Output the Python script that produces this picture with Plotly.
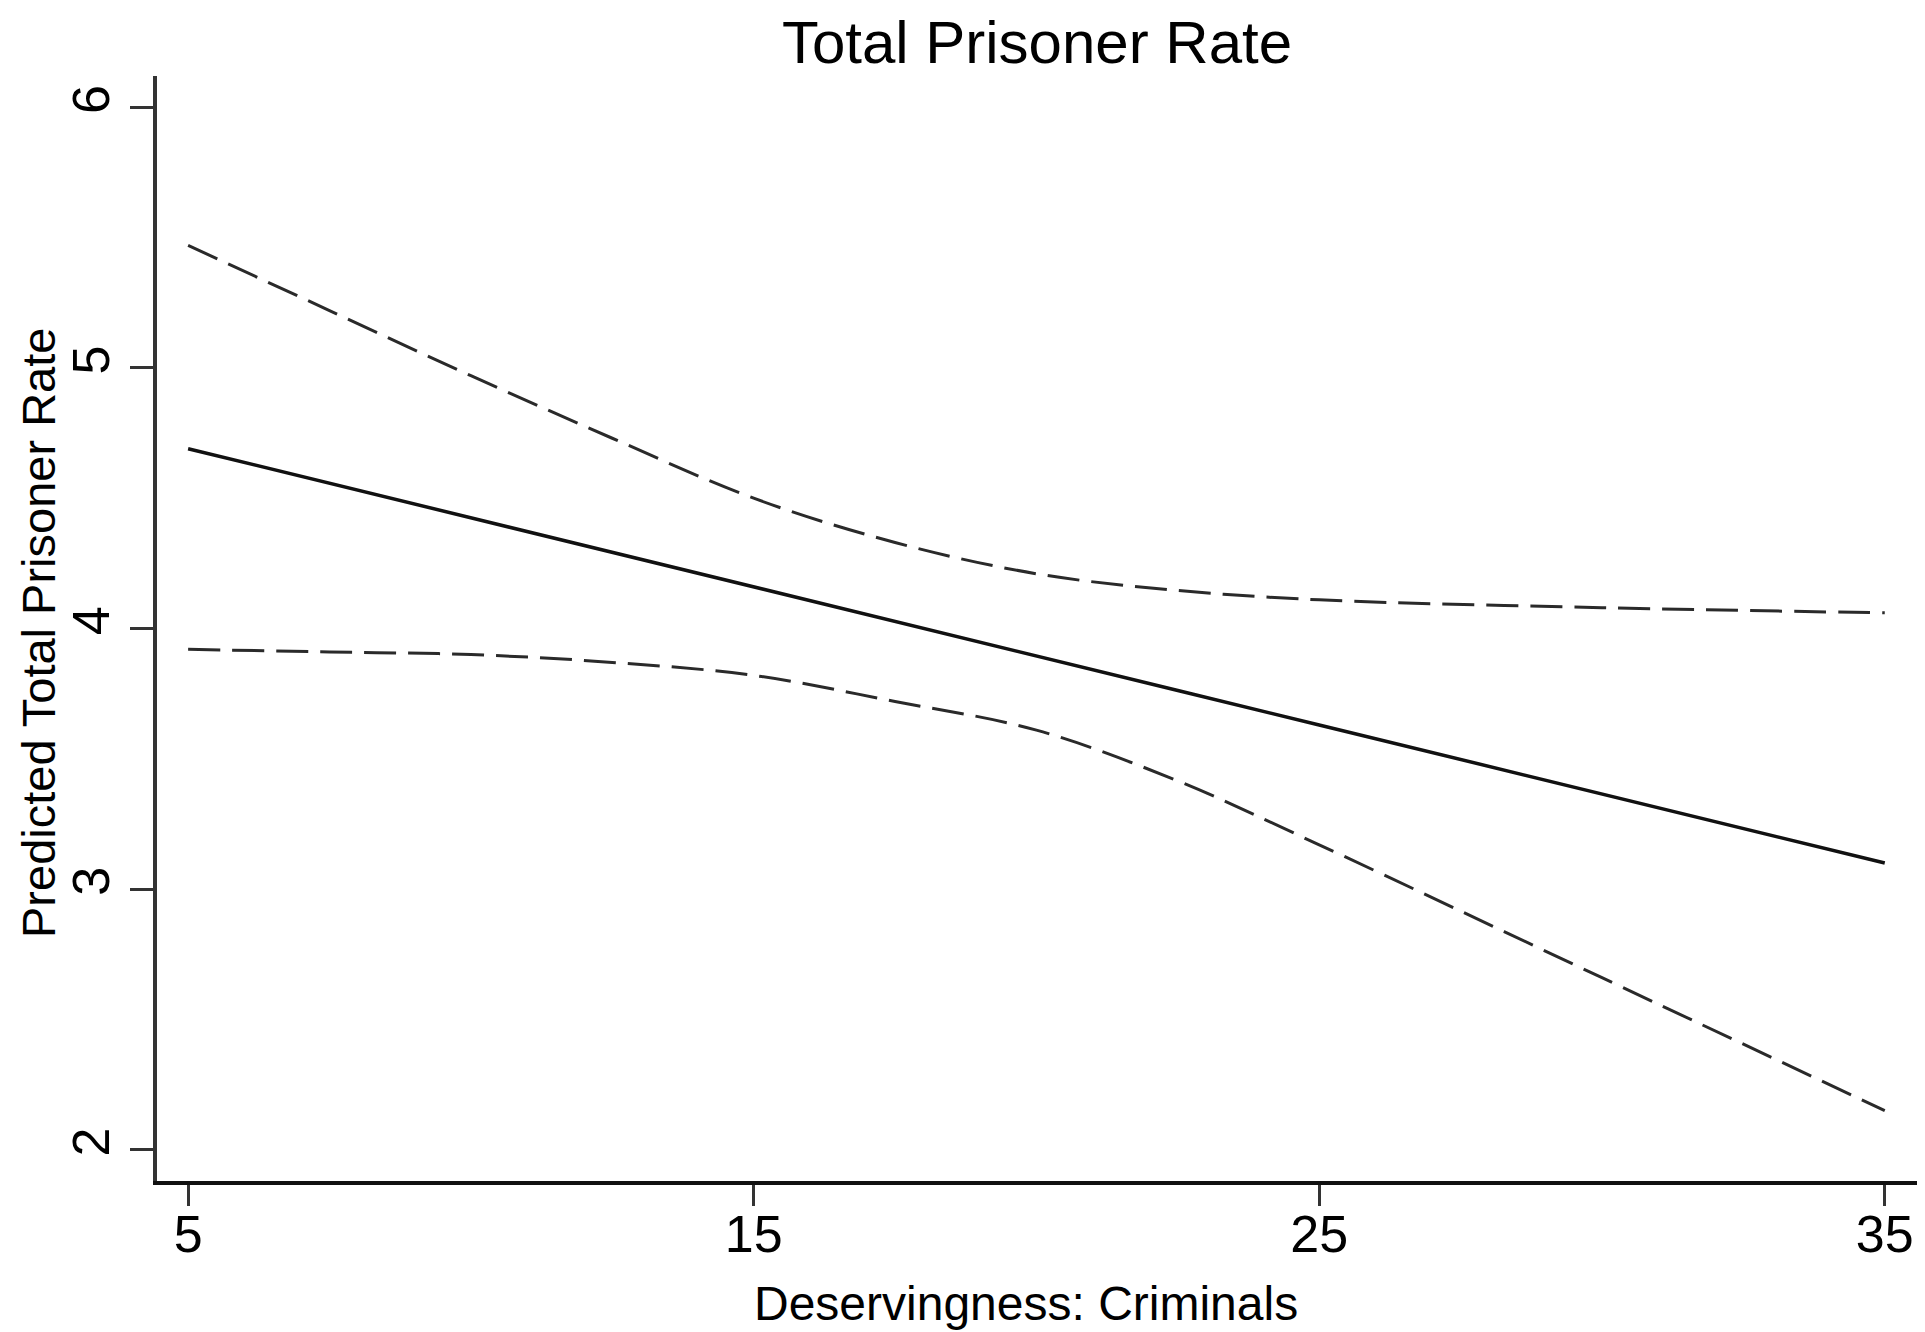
import plotly.graph_objects as go

# Data
x_vals = [5, 7.5, 10, 12.5, 15, 17.5, 20, 22.5, 25, 30, 35]
predicted = [4.69, 4.557, 4.425, 4.292, 4.16, 4.027, 3.895, 3.762, 3.63, 3.365, 3.10]
upper_ci = [5.47, 5.22, 4.97, 4.73, 4.50, 4.33, 4.21, 4.146, 4.11, 4.08, 4.06]
lower_ci = [3.92, 3.91, 3.90, 3.87, 3.82, 3.72, 3.61, 3.415, 3.17, 2.66, 2.15]

x_ticks = [5, 15, 25, 35]
y_ticks = [2, 3, 4, 5, 6]

title_text = "Total Prisoner Rate"
x_title = "Deservingness: Criminals"
y_title = "Predicted Total Prisoner Rate"

FONT = "Liberation Sans, Arial, sans-serif"

# page body has an 8px margin, so figure coordinates = screen coordinates - 8
OFF = 8
W, H = 1925 - OFF, 1332 - OFF
L, R, T, B = 157 - OFF, 1917 - OFF, 76 - OFF, 1181 - OFF

fig = go.Figure()
fig.add_trace(go.Scatter(x=x_vals, y=upper_ci, mode="lines", line_shape="spline",
                         line=dict(color="#2a2a2a", width=3, dash="32px,12px"),
                         showlegend=False))
fig.add_trace(go.Scatter(x=x_vals, y=lower_ci, mode="lines", line_shape="spline",
                         line=dict(color="#2a2a2a", width=3, dash="32px,12px"),
                         showlegend=False))
fig.add_trace(go.Scatter(x=x_vals, y=predicted, mode="lines",
                         line=dict(color="#111111", width=3.5),
                         showlegend=False))

fig.update_layout(
    width=W, height=H,
    margin=dict(l=L, r=W - R, t=T, b=H - B, autoexpand=False),
    paper_bgcolor="white", plot_bgcolor="white",
    font=dict(family=FONT, color="black"),
    title=dict(text=title_text, x=0.5, xanchor="center", xref="paper",
               y=1 - 34 / H, yanchor="middle",
               font=dict(size=60, family=FONT, color="black")),
    xaxis=dict(range=[4.45, 35.57], tickvals=x_ticks, ticktext=[str(v) for v in x_ticks],
               showgrid=False, zeroline=False, showline=True, linecolor="#111111", linewidth=4,
               ticks="outside", ticklen=21, tickwidth=3, tickcolor="#333333",
               ticklabelstandoff=-16,
               tickfont=dict(size=52, family=FONT, color="black"), automargin=False),
    yaxis=dict(range=[1.88, 6.12], tickvals=y_ticks, ticktext=[str(v) for v in y_ticks],
               showgrid=False, zeroline=False, showline=True, linecolor="#333333", linewidth=4,
               ticks="outside", ticklen=23, tickwidth=3, tickcolor="#333333", tickangle=-90,
               tickfont=dict(size=52, family=FONT, color="black"), automargin=False),
    annotations=[
        dict(text=x_title, xref="paper", yref="paper",
             x=(1026 - OFF - L) / (R - L), y=(B - (1295)) / (B - T),
             xanchor="center", yanchor="middle", showarrow=False,
             font=dict(size=48, family=FONT, color="black")),
        dict(text=y_title, xref="paper", yref="paper",
             x=(30 - L) / (R - L), y=(B - (633 - OFF)) / (B - T),
             xanchor="center", yanchor="middle", showarrow=False, textangle=-90,
             font=dict(size=47, family=FONT, color="black")),
    ],
)

fig.write_html("out.html")
